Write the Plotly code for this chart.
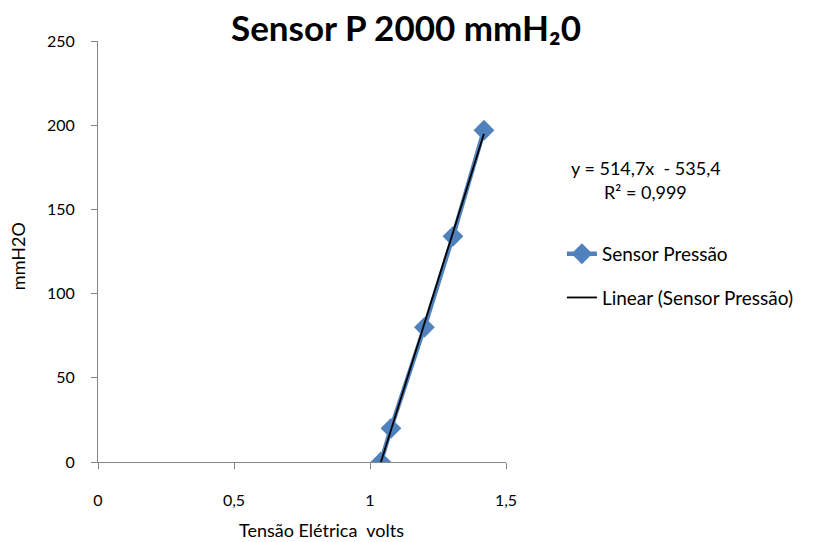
import numpy as np
import plotly.graph_objects as go

# Data
volts = [1.04, 1.077, 1.20, 1.305, 1.419]
mmh2o = [0, 20, 80, 134, 197]

# Excel linear trendline coefficients (from the displayed equation)
slope = 514.7
intercept = -535.4
r2_text = "R² = 0,999"
eq_text = "y = 514,7x  - 535,4"

x_ticks = [0, 0.5, 1, 1.5]
x_tick_labels = ["0", "0,5", "1", "1,5"]
y_ticks = [0, 50, 100, 150, 200, 250]

trend_x = np.array([min(volts), max(volts)])
trend_y = slope * trend_x + intercept

FONT = "Lato"
BLUE = "#4F81BD"
AXIS = "#868686"

fig = go.Figure()
fig.add_trace(go.Scatter(
    x=volts, y=mmh2o, mode="lines+markers", name="Sensor Pressão",
    line=dict(color=BLUE, width=4.5),
    marker=dict(symbol="diamond", size=16, color=BLUE),
    legendgroup="a",
))
fig.add_trace(go.Scatter(
    x=trend_x, y=trend_y, mode="lines", name="Linear (Sensor Pressão)",
    line=dict(color="black", width=1.8),
    legendgroup="b",
))

fig.update_layout(
    width=814, height=542,
    margin=dict(l=98, r=308, t=41, b=80),
    paper_bgcolor="white", plot_bgcolor="white",
    font=dict(family=FONT, size=18, color="#000000"),
    title=dict(text="<b>Sensor P 2000 mmH₂0</b>",
               x=0.4988, xanchor="center", y=0.947, yanchor="middle",
               font=dict(family=FONT, size=35, color="black")),
    showlegend=True,
    legend=dict(x=1.137, xanchor="left", y=0.442, yanchor="middle",
                font=dict(family=FONT, size=19, color="black"),
                tracegroupgap=16, bgcolor="rgba(0,0,0,0)"),
    xaxis=dict(range=[0, 1.5], tickvals=x_ticks, ticktext=x_tick_labels,
               showgrid=False, zeroline=False, showline=True, linecolor=AXIS,
               linewidth=1, ticks="outside", ticklen=6, tickcolor=AXIS,
               tickfont=dict(size=16), ticklabelstandoff=18),
    yaxis=dict(range=[0, 250], tickvals=y_ticks, showgrid=False, zeroline=False,
               showline=True, linecolor=AXIS, linewidth=1, ticks="outside",
               ticklen=6, tickcolor=AXIS, tickfont=dict(size=16),
               ticklabelstandoff=13),
)

fig.add_annotation(xref="paper", yref="paper", x=0.547, y=-0.162,
                   text="Tensão Elétrica  volts", showarrow=False,
                   font=dict(size=18, color="black"), xanchor="center", yanchor="middle")
fig.add_annotation(xref="paper", yref="paper", x=-0.196, y=0.489,
                   text="mmH2O", showarrow=False, textangle=-90,
                   font=dict(size=18, color="black"), xanchor="center", yanchor="middle")
fig.add_annotation(xref="paper", yref="paper", x=1.342, y=0.698,
                   text=eq_text, showarrow=False, font=dict(size=18, color="black"),
                   xanchor="center", yanchor="middle")
fig.add_annotation(xref="paper", yref="paper", x=1.342, y=0.641,
                   text=r2_text, showarrow=False, font=dict(size=18, color="black"),
                   xanchor="center", yanchor="middle")

fig.write_html("out.html", config={"displayModeBar": False},
               post_script="document.body.style.margin='0';")
